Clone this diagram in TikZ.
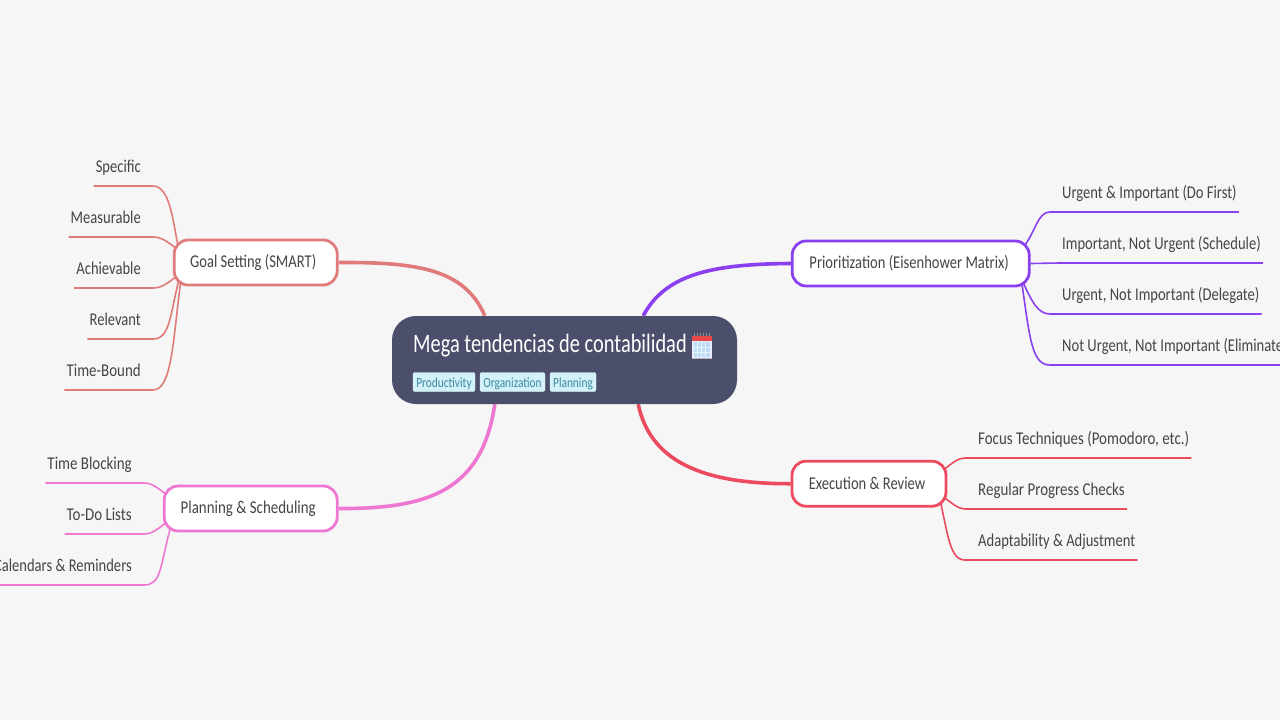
\documentclass[tikz,border=0pt]{standalone}
\usepackage{fontspec}
\setmainfont{Carlito}[FakeStretch=0.81]
\newfontfamily\titlefont{Carlito}[FakeStretch=0.77]
\newfontfamily\widefont{Carlito}[FakeStretch=0.83]
\usetikzlibrary{backgrounds}
\definecolor{pagebg}{HTML}{F6F6F6}
\definecolor{rootbg}{HTML}{4C4F6B}
\definecolor{goalc}{HTML}{E07B7B}
\definecolor{prioc}{HTML}{8A3FF0}
\definecolor{execc}{HTML}{EC4A5E}
\definecolor{planc}{HTML}{EE77D2}
\definecolor{txt}{HTML}{454545}
\definecolor{tagbg}{HTML}{D2F1F8}
\definecolor{tagtx}{HTML}{3D8A9E}
\definecolor{calred}{HTML}{E8484A}
\definecolor{calblue}{HTML}{BBDDF6}
\tikzset{
  x=1pt,y=-1pt,
  branchbox/.style={draw=#1,line width=2.8pt,fill=white,rounded corners=14pt,minimum height=45pt,inner sep=0pt,text=txt,font=\fontsize{18}{20}\selectfont},
  leafnode/.style={inner xsep=2pt,inner ysep=0pt,text height=13pt,text depth=3pt,minimum height=37pt,text=txt,font=\fontsize{18}{20}\selectfont},
  leftleaf/.style={leafnode,anchor=south east},
  rightleaf/.style={leafnode,anchor=south west},
  tagnode/.style={fill=tagbg,draw=tagbg!70!white,line width=.4pt,rounded corners=2pt,text=tagtx,inner sep=0pt,minimum height=19pt,text height=11pt,text depth=0pt,font=\fontsize{14}{16}\selectfont},
  mainlink/.style={draw=#1,line width=3.6pt},
  leaflink/.style={draw=#1,line width=1.6pt},
}
\begin{document}
\begin{tikzpicture}
\useasboundingbox (0,0) rectangle (1280,720);
% nodes
\node[fill=rootbg,rounded corners=24pt,minimum width=345pt,minimum height=88pt,inner sep=0pt] (root) at (564.5,360) {};
\node[anchor=base west,inner sep=0pt,text=white,font=\titlefont\fontsize{26.5}{28}\selectfont] (title) at (413,352) {Mega tendencias de contabilidad};
\node[tagnode,minimum width=62pt] (tag1) at (444,382) {Productivity};
\node[tagnode,minimum width=65pt] (tag2) at (512.5,382) {Organization};
\node[tagnode,minimum width=46pt] (tag3) at (573,382) {Planning};
% calendar icon
\fill[black!30] (692,336) rectangle (712,358.5);
\fill[white!92!blue] (692,336) rectangle (711.5,357.5);
\fill[calred] (692,335.5) rectangle (711.5,341);
\fill[calblue] (693.5,342) rectangle (710,356.5);
\foreach \i in {694,697,700,703,706,709}{\draw[black!45,line width=.6pt] (\i,332.5) -- (\i,336);}
\foreach \i in {697,701,705}{\draw[white!70!calblue,line width=.3pt] (\i,342) -- (\i,356.5);}
\foreach \i in {347,352}{\draw[white!70!calblue,line width=.3pt] (693.5,\i) -- (710,\i);}

\node[branchbox=goalc,minimum width=163pt] (goal) at (255.7,262.5) {\hspace*{-5pt}Goal Setting (SMART)};
\node[branchbox=prioc,minimum width=237pt] (prio) at (910.7,263.5) {\hspace*{-3pt}Prioritization (Eisenhower Matrix)};
\node[branchbox=execc,minimum width=154pt] (exec) at (869,483.7) {\hspace*{-4pt}Execution \& Review};
\node[branchbox=planc,minimum width=173pt] (plan) at (250.7,508.5) {\hspace*{-5pt}\widefont Planning \& Scheduling};

\node[leftleaf] (g1) at (143,186) {Specific};
\node[leftleaf] (g2) at (143,237) {Measurable};
\node[leftleaf] (g3) at (143,288) {Achievable};
\node[leftleaf] (g4) at (143,339) {Relevant};
\node[leftleaf,font=\widefont\fontsize{18}{20}\selectfont] (g5) at (143,390) {Time-Bound};
\node[leftleaf,font=\widefont\fontsize{18}{20}\selectfont] (l1) at (134,483) {Time Blocking};
\node[leftleaf,font=\widefont\fontsize{18}{20}\selectfont] (l2) at (134,534) {To-Do Lists};
\node[leftleaf] (l3) at (134,585) {Calendars \& Reminders};
\node[rightleaf] (p1) at (1060,212) {Urgent \& Important (Do First)};
\node[rightleaf] (p2) at (1060,263) {Important, Not Urgent (Schedule)};
\node[rightleaf] (p3) at (1060,314) {Urgent, Not Important (Delegate)};
\node[rightleaf] (p4) at (1060,365) {Not Urgent, Not Important (Eliminate)};
\node[rightleaf,font=\widefont\fontsize{18}{20}\selectfont] (e1) at (976,458) {Focus Techniques (Pomodoro, etc.)};
\node[rightleaf,font=\widefont\fontsize{18}{20}\selectfont] (e2) at (976,509) {Regular Progress Checks};
\node[rightleaf] (e3) at (976,560) {Adaptability \& Adjustment};

\begin{pgfonlayer}{background}
\fill[pagebg] (0,0) rectangle (1280,720);
% main links
\draw[mainlink=goalc] (goal.east) .. controls (420,262) and (465,270) .. ([xshift=93pt]root.north west);
\draw[mainlink=planc] (plan.east) .. controls (430,509) and (482,490) .. ([xshift=103pt]root.south west);
\draw[mainlink=prioc] (prio.west) .. controls (710,264) and (665,275) .. ([xshift=-94pt]root.north east);
\draw[mainlink=execc] (exec.west) .. controls (700,484) and (650,460) .. ([xshift=-99pt]root.south east);
% leaf links: goal
\draw[leaflink=goalc] ([xshift=5pt,yshift=-6pt]goal.north west) .. controls (173,222) and (170,186) .. ([xshift=10pt]g1.south east) -- (g1.south west);
\draw[leaflink=goalc] ([xshift=6pt,yshift=-12pt]goal.north west) .. controls (168,242) and (162,237) .. ([xshift=10pt]g2.south east) -- (g2.south west);
\draw[leaflink=goalc] ([xshift=6pt,yshift=12pt]goal.south west) .. controls (168,283) and (162,288) .. ([xshift=10pt]g3.south east) -- (g3.south west);
\draw[leaflink=goalc] ([xshift=6pt,yshift=6pt]goal.south west) .. controls (170,315) and (170,339) .. ([xshift=10pt]g4.south east) -- (g4.south west);
\draw[leaflink=goalc] ([xshift=8pt,yshift=6pt]goal.south west) .. controls (173,340) and (172,390) .. ([xshift=10pt]g5.south east) -- (g5.south west);
% leaf links: planning
\draw[leaflink=planc] ([xshift=6pt,yshift=-12pt]plan.north west) .. controls (158,488) and (152,483) .. ([xshift=10pt]l1.south east) -- (l1.south west);
\draw[leaflink=planc] ([xshift=6pt,yshift=12pt]plan.south west) .. controls (158,529) and (152,534) .. ([xshift=10pt]l2.south east) -- (l2.south west);
\draw[leaflink=planc] ([xshift=8pt,yshift=6pt]plan.south west) .. controls (160,565) and (162,585) .. ([xshift=10pt]l3.south east) -- (l3.south west);
% leaf links: prioritization
\draw[leaflink=prioc] ([xshift=-6pt,yshift=-6pt]prio.north east) .. controls (1036,230) and (1038,212) .. ([xshift=-10pt]p1.south west) -- (p1.south east);
\draw[leaflink=prioc] (prio.east) -- (p2.south west) -- (p2.south east);
\draw[leaflink=prioc] ([xshift=-8pt,yshift=6pt]prio.south east) .. controls (1032,302) and (1038,314) .. ([xshift=-10pt]p3.south west) -- (p3.south east);
\draw[leaflink=prioc] ([xshift=-9pt,yshift=6pt]prio.south east) .. controls (1030,340) and (1032,365) .. ([xshift=-10pt]p4.south west) -- (p4.south east);
% leaf links: execution
\draw[leaflink=execc] ([xshift=-6pt,yshift=-12pt]exec.north east) .. controls (952,463) and (958,458) .. ([xshift=-11pt]e1.south west) -- (e1.south east);
\draw[leaflink=execc] ([xshift=-6pt,yshift=12pt]exec.south east) .. controls (952,503) and (958,509) .. ([xshift=-11pt]e2.south west) -- (e2.south east);
\draw[leaflink=execc] ([xshift=-7pt,yshift=6pt]exec.south east) .. controls (948,535) and (950,560) .. ([xshift=-11pt]e3.south west) -- (e3.south east);
\end{pgfonlayer}
\end{tikzpicture}
\end{document}
